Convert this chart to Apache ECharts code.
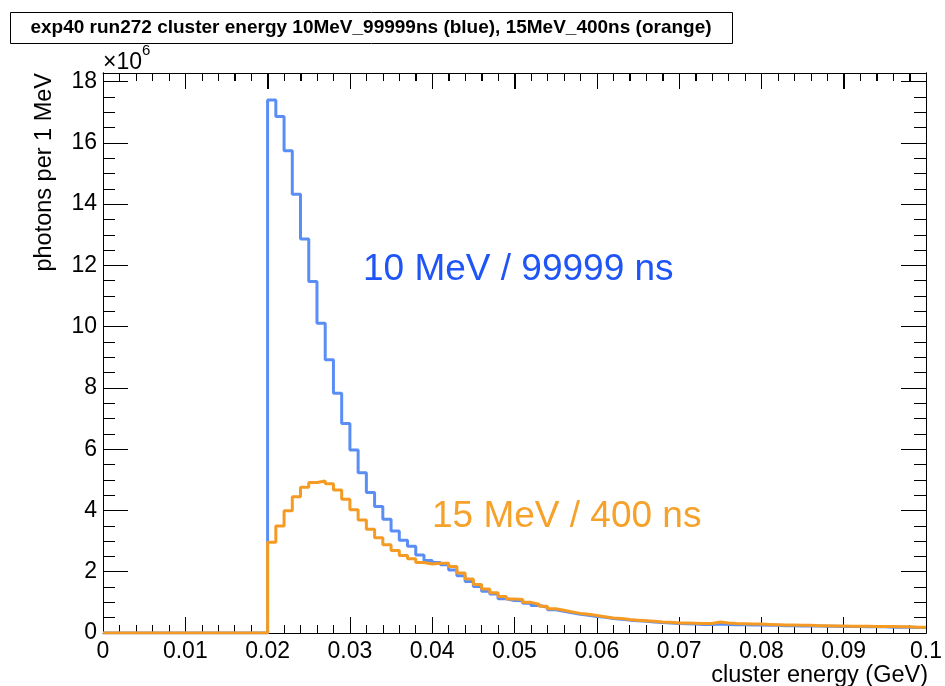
<!DOCTYPE html>
<html>
<head>
<meta charset="utf-8">
<script src="https://cdn.jsdelivr.net/npm/echarts@6/dist/echarts.min.js"></script>
<style>
html,body{margin:0;padding:0;background:#fff;}
#c{width:945px;height:686px;}
</style>
</head>
<body>
<div id="c"></div>
<script>
// Histogram: 100 bins of 1 MeV (0.001 GeV) from 0 to 0.1 GeV; values in units of 10^6
const binCount = 100;
const binWidth = 0.001;
const xTicks = [0, 0.01, 0.02, 0.03, 0.04, 0.05, 0.06, 0.07, 0.08, 0.09, 0.1];
const yTicks = [0, 2, 4, 6, 8, 10, 12, 14, 16, 18];
const seriesNames = ['10 MeV / 99999 ns', '15 MeV / 400 ns'];

// bins 0..19 are empty
const zeroBins = [0,0,0,0,0,0,0,0,0,0,0,0,0,0,0,0,0,0,0,0];
// bins 20..99
const blue10MeV = [
  17.40,16.86,15.74,14.32,12.86,11.47,10.11,8.92,7.83,6.84,
  5.97,5.23,4.59,4.13,3.71,3.33,3.03,2.83,2.55,2.37,
  2.30,2.23,2.06,1.87,1.68,1.52,1.36,1.27,1.12,1.06,
  1.05,0.97,0.90,0.84,0.76,0.71,0.66,0.61,0.58,0.54,
  0.51,0.47,0.45,0.42,0.40,0.38,0.36,0.34,0.33,0.31,
  0.30,0.29,0.28,0.28,0.29,0.28,0.27,0.27,0.26,0.26,
  0.25,0.25,0.24,0.24,0.23,0.23,0.23,0.22,0.22,0.21,
  0.21,0.21,0.20,0.20,0.20,0.19,0.19,0.19,0.18,0.18
];
const orange15MeV = [
  2.96,3.49,3.99,4.45,4.76,4.91,4.96,4.87,4.67,4.37,
  4.02,3.69,3.39,3.11,2.88,2.69,2.53,2.42,2.30,2.25,
  2.28,2.28,2.17,1.96,1.76,1.58,1.44,1.31,1.19,1.11,
  1.09,1.00,0.94,0.87,0.79,0.74,0.69,0.64,0.61,0.57,
  0.53,0.49,0.47,0.44,0.42,0.40,0.38,0.36,0.35,0.33,
  0.33,0.32,0.31,0.31,0.36,0.33,0.31,0.30,0.29,0.29,
  0.28,0.27,0.26,0.26,0.25,0.25,0.24,0.24,0.23,0.23,
  0.22,0.22,0.22,0.21,0.21,0.21,0.20,0.20,0.19,0.19
];

function histPoints(vals) {
  const all = zeroBins.concat(vals);
  const pts = all.map((v, i) => [Math.round(i) / 1000, v]);
  pts.push([binCount * binWidth, all[all.length - 1]]);
  return pts;
}

const FONT = "'Liberation Sans', Helvetica, Arial, sans-serif";
const yMax = 18.28;
const chart = echarts.init(document.getElementById('c'), null, {renderer: 'canvas'});

// tick marks for the top frame edge (major every 0.01, minor every 0.002)
const topTicks = [];
for (let i = 0; i <= 50; i++) {
  topTicks.push([Math.round(i * 2) / 1000, i % 5 === 0 ? 1 : 0]);
}

const axisLineStyle = {show: true, onZero: false, lineStyle: {color: '#000', width: 1}};
function yAxisDef(pos, interval, len, labels) {
  return {
    type: 'value', position: pos, min: 0, max: yMax, interval: interval,
    axisLine: axisLineStyle,
    axisTick: {show: true, inside: true, interval: 0, length: len, lineStyle: {color: '#000', width: 1}},
    axisLabel: labels ? {
      show: true, fontFamily: FONT, fontSize: 23, color: '#000', margin: 6,
      formatter: v => (yTicks.indexOf(Math.round(v * 1000) / 1000) >= 0 ? String(Math.round(v)) : '')
    } : {show: false},
    splitLine: {show: false}
  };
}
function xAxisDef(pos, labels) {
  const ax = {
    type: 'value', position: pos, min: 0, max: 0.1, interval: 0.01,
    axisLine: {show: true, onZero: false, lineStyle: {color: '#000', width: 1}},
    axisTick: {show: true, inside: true, length: 16, lineStyle: {color: '#000', width: 1}},
    minorTick: {show: true, splitNumber: 5, length: 8, lineStyle: {color: '#000', width: 1}},
    splitLine: {show: false}
  };
  if (labels) {
    ax.axisLabel = {
      show: true, fontFamily: FONT, fontSize: 23, color: '#000', margin: 7,
      formatter: v => {
        const r = Math.round(v * 100) / 100;
        return xTicks.indexOf(r) >= 0 ? String(r) : '';
      }
    };
  } else {
    ax.axisLabel = {show: true, color: 'rgba(0,0,0,0)'};
  }
  return ax;
}

chart.setOption({
  backgroundColor: '#fff',
  animation: false,
  grid: {left: 103, right: 16, top: 73, bottom: 53, containLabel: false},
  xAxis: [xAxisDef('bottom', true), xAxisDef('top', false)],
  yAxis: [
    yAxisDef('left', 2, 25, true),
    yAxisDef('left', 0.5, 12, false),
    yAxisDef('right', 2, 25, false),
    yAxisDef('right', 0.5, 12, false)
  ],
  series: [
    {
      name: seriesNames[0], type: 'line', step: 'end', xAxisIndex: 0, yAxisIndex: 0,
      data: histPoints(blue10MeV), showSymbol: false, symbol: 'none',
      lineStyle: {color: '#5b8ef5', width: 3}, z: 2
    },
    {
      name: seriesNames[1], type: 'line', step: 'end', xAxisIndex: 0, yAxisIndex: 0,
      data: histPoints(orange15MeV), showSymbol: false, symbol: 'none',
      lineStyle: {color: '#f59b23', width: 3}, z: 3
    },
    {
      name: 'topTicks', type: 'custom', xAxisIndex: 0, yAxisIndex: 0, z: 4, silent: true,
      data: topTicks,
      renderItem: function (params, api) {
        const p = api.coord([api.value(0), yMax]);
        const len = api.value(1) ? 16 : 8;
        const x = Math.round(p[0]) + 0.5;
        return {
          type: 'line',
          shape: {x1: x, y1: p[1], x2: x, y2: p[1] + len},
          style: {stroke: '#000', lineWidth: 1}
        };
      }
    }
  ],
  graphic: [
    {type: 'rect', shape: {x: 10.5, y: 12.5, width: 722, height: 31},
     style: {fill: '#fff', stroke: '#000', lineWidth: 1}, z: 10},
    {type: 'text', x: 371, y: 28, z: 11,
     style: {text: 'exp40 run272 cluster energy 10MeV_99999ns (blue), 15MeV_400ns (orange)',
       font: "bold 19px " + FONT, fill: '#000', align: 'center', verticalAlign: 'middle'}},
    {type: 'text', x: 45, y: 73, rotation: Math.PI / 2, z: 11,
     style: {text: 'photons per 1 MeV', font: "23.5px " + FONT, fill: '#000', align: 'right', verticalAlign: 'middle'}},
    {type: 'text', x: 928, y: 676, z: 11,
     style: {text: 'cluster energy (GeV)', font: "23.5px " + FONT, fill: '#000', align: 'right', verticalAlign: 'middle'}},
    {type: 'text', x: 103, y: 63, z: 11,
     style: {text: '×10', font: "23px " + FONT, fill: '#000', align: 'left', verticalAlign: 'middle'}},
    {type: 'text', x: 142, y: 51, z: 11,
     style: {text: '6', font: "15px " + FONT, fill: '#000', align: 'left', verticalAlign: 'middle'}},
    {type: 'text', x: 363, y: 270, z: 11,
     style: {text: seriesNames[0], font: "37px " + FONT, fill: '#1f55f7', align: 'left', verticalAlign: 'middle'}},
    {type: 'text', x: 432, y: 517, z: 11,
     style: {text: seriesNames[1], font: "37px " + FONT, fill: '#f6a22a', align: 'left', verticalAlign: 'middle'}}
  ]
});
</script>
</body>
</html>
